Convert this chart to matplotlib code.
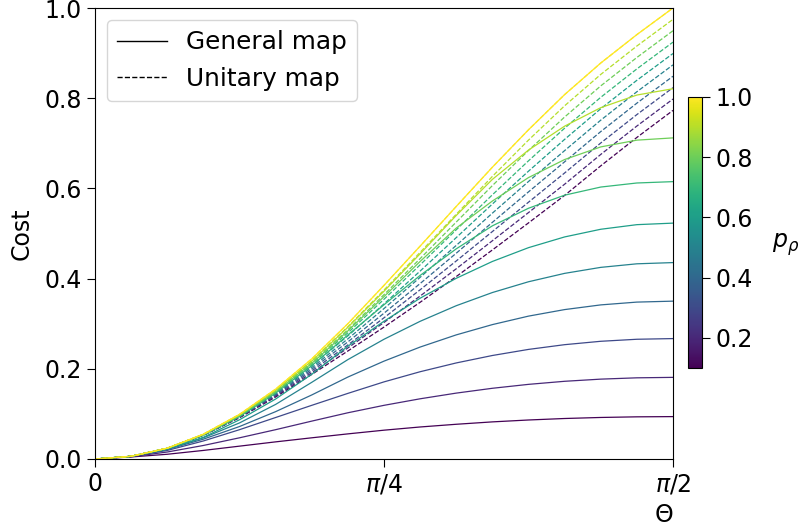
import numpy as np
import matplotlib
matplotlib.use("Agg")
import matplotlib.pyplot as plt
from matplotlib.lines import Line2D
from matplotlib.colors import Normalize
from matplotlib.cm import ScalarMappable

# ---- data ----
theta_frac = [0, 0.0625, 0.125, 0.1875, 0.25, 0.3125, 0.375, 0.4375, 0.5,
              0.5625, 0.625, 0.6875, 0.75, 0.8125, 0.875, 0.9375, 1.0]  # Theta / (pi/2)
p_values = [0.1, 0.2, 0.3, 0.4, 0.5, 0.6, 0.7, 0.8, 0.9, 1.0]

general_01 = [0, 0.0045, 0.0105, 0.019, 0.0285, 0.038, 0.047, 0.0557, 0.0639, 0.071, 0.077, 0.0823, 0.0865, 0.0898, 0.0921, 0.0935, 0.094]
general_02 = [0, 0.005, 0.0155, 0.030, 0.047, 0.065, 0.084, 0.1025, 0.119, 0.1335, 0.1461, 0.1568, 0.1655, 0.1723, 0.1771, 0.180, 0.181]
general_03 = [0, 0.0055, 0.019, 0.040, 0.065, 0.092, 0.119, 0.1455, 0.171, 0.1935, 0.213, 0.2295, 0.243, 0.2535, 0.261, 0.2655, 0.267]
general_04 = [0, 0.006, 0.021, 0.044, 0.072, 0.105, 0.142, 0.1817, 0.217, 0.2482, 0.2752, 0.298, 0.3168, 0.3313, 0.3417, 0.3479, 0.350]
general_05 = [0, 0.006, 0.022, 0.047, 0.080, 0.121, 0.170, 0.2204, 0.2655, 0.3053, 0.3399, 0.3691, 0.393, 0.4116, 0.4249, 0.4328, 0.4355]
general_06 = [0, 0.006, 0.0225, 0.048, 0.087, 0.133, 0.188, 0.250, 0.3055, 0.3565, 0.4007, 0.438, 0.4686, 0.4924, 0.5094, 0.5196, 0.523]
general_07 = [0, 0.006, 0.0235, 0.053, 0.094, 0.146, 0.207, 0.275, 0.342, 0.407, 0.466, 0.517, 0.556, 0.585, 0.603, 0.612, 0.615]
general_08 = [0, 0.006, 0.0238, 0.054, 0.096, 0.149, 0.212, 0.284, 0.360, 0.438, 0.512, 0.572, 0.624, 0.664, 0.692, 0.707, 0.712]
general_09 = [0, 0.006, 0.0239, 0.0545, 0.098, 0.1525, 0.217, 0.292, 0.372, 0.455, 0.540, 0.620, 0.685, 0.738, 0.779, 0.807, 0.821]
general_10 = [0, 0.006, 0.024, 0.055, 0.099, 0.155, 0.222, 0.300, 0.385, 0.472, 0.560, 0.647, 0.730, 0.808, 0.878, 0.941, 1.000]

unitary_01 = [0, 0.006, 0.0235, 0.0525, 0.0915, 0.1375, 0.1875, 0.2395, 0.2925, 0.3475, 0.4045, 0.4635, 0.5235, 0.5845, 0.650, 0.713, 0.773]
unitary_02 = [0, 0.006, 0.0236, 0.0528, 0.0923, 0.1394, 0.1913, 0.2462, 0.3028, 0.3613, 0.4218, 0.4839, 0.5464, 0.6093, 0.6753, 0.7383, 0.7982]
unitary_03 = [0, 0.006, 0.0236, 0.0531, 0.0932, 0.1414, 0.1952, 0.2529, 0.3131, 0.3752, 0.4391, 0.5043, 0.5694, 0.6342, 0.7007, 0.7637, 0.8234]
unitary_04 = [0, 0.006, 0.0237, 0.0533, 0.094, 0.1433, 0.199, 0.2597, 0.3233, 0.389, 0.4563, 0.5247, 0.5923, 0.659, 0.726, 0.789, 0.8487]
unitary_05 = [0, 0.006, 0.0237, 0.0536, 0.0948, 0.1453, 0.2028, 0.2664, 0.3336, 0.4028, 0.4736, 0.5451, 0.6153, 0.6838, 0.7513, 0.8143, 0.8739]
unitary_06 = [0, 0.006, 0.0238, 0.0539, 0.0957, 0.1472, 0.2067, 0.2731, 0.3439, 0.4167, 0.4909, 0.5654, 0.6382, 0.7087, 0.7767, 0.8397, 0.8991]
unitary_07 = [0, 0.006, 0.0238, 0.0542, 0.0965, 0.1492, 0.2105, 0.2798, 0.3542, 0.4305, 0.5082, 0.5858, 0.6612, 0.7335, 0.802, 0.865, 0.9243]
unitary_08 = [0, 0.006, 0.0239, 0.0544, 0.0973, 0.1511, 0.2143, 0.2866, 0.3644, 0.4443, 0.5254, 0.6062, 0.6841, 0.7583, 0.8273, 0.8903, 0.9496]
unitary_09 = [0, 0.006, 0.0239, 0.0547, 0.0982, 0.1531, 0.2182, 0.2933, 0.3747, 0.4582, 0.5427, 0.6266, 0.7071, 0.7832, 0.8527, 0.9157, 0.9748]
unitary_10 = [0, 0.006, 0.024, 0.055, 0.099, 0.155, 0.222, 0.300, 0.385, 0.472, 0.560, 0.647, 0.730, 0.808, 0.878, 0.941, 1.000]

x_tick_labels = ["0", r"$\pi/4$", r"$\pi/2$"]
y_ticks = [0.0, 0.2, 0.4, 0.6, 0.8, 1.0]
cbar_ticks = [0.2, 0.4, 0.6, 0.8, 1.0]

general = [general_01, general_02, general_03, general_04, general_05,
           general_06, general_07, general_08, general_09, general_10]
unitary = [unitary_01, unitary_02, unitary_03, unitary_04, unitary_05,
           unitary_06, unitary_07, unitary_08, unitary_09, unitary_10]

# ---- plot ----
FS = 17
plt.rcParams['font.size'] = FS
fig = plt.figure(figsize=(8.02, 5.30), dpi=100)
ax = fig.add_axes([95/802, 1-459/530, (673-95)/802, (459-8)/530])

theta = np.array(theta_frac) * np.pi / 2
cmap = plt.get_cmap('viridis')
norm = Normalize(vmin=min(p_values), vmax=max(p_values))

for p, g, u in zip(p_values, general, unitary):
    c = cmap(norm(p))
    ax.plot(theta, g, color=c, lw=0.9, ls='-')
    ax.plot(theta, u, color=c, lw=0.9, ls='--')

ax.set_xlim(0, np.pi/2)
ax.set_ylim(0, 1.0)
ax.set_xticks([0, np.pi/4, np.pi/2])
ax.set_xticklabels(x_tick_labels)
ax.set_yticks(y_ticks)
ax.tick_params(labelsize=FS, length=6)
ax.set_ylabel('Cost', fontsize=FS, labelpad=8)
ax.set_xlabel(r'$\Theta$', fontsize=FS, loc='right', labelpad=5)

handles = [Line2D([0], [0], color='black', lw=1.0, ls='-'),
           Line2D([0], [0], color='black', lw=1.0, ls='--')]
ax.legend(handles, ['General map', 'Unitary map'], loc='upper left', fontsize=17.8)

cax = fig.add_axes([688/802, 1-368/530, 14/802, (368-97)/530])
sm = ScalarMappable(norm=norm, cmap=cmap)
sm.set_array([])
cb = fig.colorbar(sm, cax=cax, ticks=cbar_ticks)
cb.ax.tick_params(labelsize=FS, length=6)
fig.text(786/802, 1-245/530, r'$p_\rho$', fontsize=FS, ha='center', va='center')

fig.savefig('out.png', dpi=100)
